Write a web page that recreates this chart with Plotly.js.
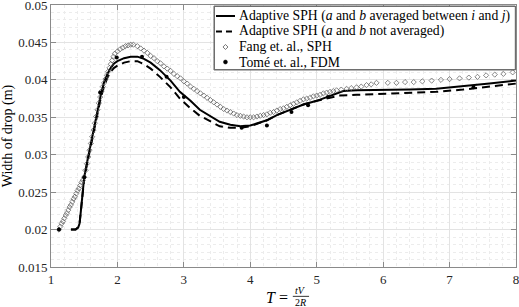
<!DOCTYPE html>
<html>
<head>
<meta charset="utf-8">
<script src="https://cdn.plot.ly/plotly-3.0.1.min.js"></script>
<style>
html,body{margin:0;padding:0;background:#fff;}
#chart{width:519px;height:307px;}
</style>
</head>
<body>
<div id="chart"></div>
<script>
// ---- Data ----
const seriesNames = [
  "Adaptive SPH (<i>a</i> and <i>b</i> averaged between <i>i</i> and <i>j</i>)",
  "Adaptive SPH (<i>a</i> and <i>b</i> not averaged)",
  "Fang et. al., SPH",
  "Tomé et. al., FDM"
];

const avgT = [1.30,1.37,1.41,1.43,1.45,1.48,1.50,1.55,1.60,1.65,1.70,1.75,1.80,1.85,1.90,1.95,2.00,2.10,2.20,2.30,2.40,2.50,2.64,2.80,2.94,3.10,3.24,3.40,3.54,3.70,3.85,4.00,4.10,4.25,4.40,4.60,4.80,5.00,5.20,5.30,5.40,5.60,6.00,6.40,6.80,7.20,7.60,8.00];
const avgW = [0.0200,0.0200,0.0203,0.0208,0.0225,0.0252,0.0270,0.0293,0.0315,0.0337,0.0359,0.0380,0.0397,0.0408,0.0416,0.0422,0.0425,0.0429,0.0431,0.0431,0.0428,0.0423,0.0413,0.0399,0.0384,0.0372,0.0360,0.0351,0.0344,0.0340,0.0338,0.0339,0.0342,0.0346,0.0353,0.0360,0.0367,0.0372,0.0378,0.0382,0.0385,0.0386,0.0386,0.0387,0.0388,0.0391,0.0395,0.0399];

const notAvgT = [1.30,1.37,1.41,1.43,1.45,1.48,1.50,1.55,1.60,1.65,1.70,1.75,1.80,1.85,1.90,1.95,2.00,2.10,2.20,2.30,2.40,2.50,2.64,2.80,2.94,3.10,3.24,3.40,3.54,3.70,3.85,4.00,4.10,4.25,4.40,4.60,4.80,5.00,5.20,5.35,5.60,6.00,6.40,6.80,7.20,7.60,8.00];
const notAvgW = [0.0200,0.0200,0.0203,0.0208,0.0225,0.0250,0.0268,0.0291,0.0313,0.0335,0.0356,0.0376,0.0392,0.0403,0.0411,0.0416,0.0419,0.0423,0.0425,0.0425,0.0421,0.0415,0.0404,0.0390,0.0375,0.0362,0.0352,0.0344,0.0338,0.0336,0.0336,0.0338,0.0341,0.0346,0.0353,0.0360,0.0367,0.0372,0.0376,0.0379,0.0380,0.0381,0.0382,0.0384,0.0387,0.0391,0.0395];

const fangT = [1.12,1.14,1.16,1.18,1.20,1.22,1.24,1.26,1.28,1.30,1.32,1.34,1.36,1.38,1.40,1.42,1.44,1.46,1.48,1.50,
  1.52,1.54,1.56,1.58,1.60,1.62,1.64,1.66,1.68,1.70,1.72,1.74,1.76,1.78,1.80,1.82,1.84,1.86,1.88,1.90,1.92,1.94,1.96,
  2.00,2.04,2.08,2.12,2.16,2.20,2.24,2.30,2.35,2.40,2.45,2.50,2.55,2.60,2.65,2.70,2.75,2.80,2.85,2.90,2.95,
  3.00,3.05,3.10,3.15,3.20,3.25,3.30,3.35,3.40,3.45,3.50,3.55,3.60,3.65,3.70,3.75,3.80,3.85,3.90,3.95,
  4.00,4.05,4.10,4.15,4.20,4.25,4.30,4.35,4.40,4.45,4.50,4.55,4.60,4.65,4.70,4.75,4.80,4.85,4.90,4.95,
  5.00,5.05,5.10,5.15,5.20,5.25,5.30,5.37,5.45,5.52,5.60,5.67,5.75,5.82,5.90,
  6.07,6.20,6.33,6.46,6.59,6.73,6.87,7.00,7.15,7.29,7.42,7.55,7.68,7.81,7.95];
const fangW = [0.0200,0.0204,0.0208,0.0211,0.0215,0.0219,0.0222,0.0226,0.0230,0.0233,0.0237,0.0241,0.0244,0.0248,0.0252,0.0255,0.0259,0.0263,0.0266,0.0270,
  0.0279,0.0288,0.0297,0.0306,0.0315,0.0324,0.0333,0.0342,0.0351,0.0360,0.0369,0.0377,0.0385,0.0391,0.0396,0.0401,0.0406,0.0411,0.0416,0.0421,0.0426,0.0431,0.0435,
  0.0438,0.0441,0.0443,0.0445,0.0446,0.0447,0.0447,0.0445,0.0442,0.0439,0.0436,0.0432,0.0429,0.0425,0.0422,0.0418,0.0415,0.0412,0.0408,0.0405,0.0402,
  0.0398,0.0395,0.0391,0.0388,0.0385,0.0382,0.0379,0.0376,0.0373,0.0370,0.0367,0.0364,0.0361,0.0359,0.0357,0.0355,0.0353,0.0352,0.0351,0.0350,
  0.0350,0.0350,0.0351,0.0352,0.0353,0.0354,0.0356,0.0357,0.0359,0.0361,0.0362,0.0364,0.0366,0.0368,0.0370,0.0372,0.0374,0.0375,0.0376,0.0378,
  0.0379,0.0380,0.0382,0.0383,0.0384,0.0385,0.0386,0.0387,0.0388,0.0389,0.0390,0.0391,0.0393,0.0394,0.0396,
  0.0396,0.0396,0.0397,0.0397,0.0398,0.0399,0.0400,0.0401,0.0402,0.0403,0.0404,0.0406,0.0407,0.0408,0.0410];

const tomeT = [1.12,1.50,1.74,1.99,2.37,2.74,3.00,3.87,4.25,4.62,4.87,5.17,7.36];
const tomeW = [0.0200,0.0270,0.0383,0.0430,0.0431,0.0404,0.0377,0.0336,0.0339,0.0357,0.0366,0.0377,0.0390];

const xTickVals = [1,2,3,4,5,6,7,8];
const xTickText = ["1","2","3","4","5","6","7","8"];
const yTickVals = [0.015,0.02,0.025,0.03,0.035,0.04,0.045,0.05];
const yTickText = ["0.015","0.02","0.025","0.03","0.035","0.04","0.045","0.05"];

const yTitle = "Width of drop (m)";

// ---- Chart ----
const FONT = "Times New Roman, serif";
const axisCol = "#8a8a8a";
const boxCol = "#6e6e6e";

const traces = [
  {x: avgT, y: avgW, name: seriesNames[0], mode: "lines", type: "scatter",
   line: {color: "#000", width: 2}},
  {x: notAvgT, y: notAvgW, name: seriesNames[1], mode: "lines", type: "scatter",
   line: {color: "#000", width: 2, dash: "8px,5px"}},
  {x: fangT, y: fangW, name: seriesNames[2], mode: "markers", type: "scatter",
   marker: {symbol: "diamond-open", size: 4, color: "#555", line: {width: 0.7, color: "#555"}}},
  {x: tomeT, y: tomeW, name: seriesNames[3], mode: "markers", type: "scatter",
   marker: {symbol: "circle", size: 4, color: "#000"}}
];

const axisCommon = {
  showline: true, linecolor: axisCol, linewidth: 1, mirror: "ticks",
  ticks: "inside", ticklen: 5, tickcolor: axisCol, tickwidth: 1,
  showgrid: true, gridcolor: "#e3e3e3", gridwidth: 1,
  zeroline: false, ticklabeloverflow: "allow",
  tickfont: {family: FONT, size: 13, color: "#262626"},
  tickmode: "array"
};

// compact legend box (paper coordinates), laid out like the reference
const LG = {x0: 0.3505, x1: 0.9985, y0: 0.7519, y1: 0.9962,
            rows: [0.9580, 0.8989, 0.8397, 0.7824],
            sx0: 0.3548, sx1: 0.3957, sxc: 0.3752, tx: 0.3995};
const legendBox = {
  xref: "paper", yref: "paper", x: (LG.x0 + LG.x1) / 2, y: (LG.y0 + LG.y1) / 2,
  xanchor: "center", yanchor: "middle", text: "\u00a0", showarrow: false,
  width: 300, height: 62, borderpad: 0, borderwidth: 1, bordercolor: boxCol,
  bgcolor: "rgba(0,0,0,0)", font: {family: FONT, size: 10}
};
const legendAnn = seriesNames.map((nm, i) => ({
  xref: "paper", yref: "paper", x: LG.tx, y: LG.rows[i], xanchor: "left", yanchor: "middle",
  text: nm, showarrow: false, font: {family: FONT, size: 13.7, color: "#000"}
}));
const dxm = 2.5 / 465, dym = 2.5 / 262;
const legendShapes = [
  {type: "rect", xref: "paper", yref: "paper", x0: LG.x0, x1: LG.x1, y0: LG.y0, y1: LG.y1,
   fillcolor: "#ffffff", opacity: 1, line: {color: boxCol, width: 1}, layer: "above"},
  {type: "line", xref: "paper", yref: "paper", x0: LG.sx0, x1: LG.sx1, y0: LG.rows[0], y1: LG.rows[0],
   line: {color: "#000", width: 2}, layer: "above"},
  {type: "line", xref: "paper", yref: "paper", x0: LG.sx0, x1: LG.sx1, y0: LG.rows[1], y1: LG.rows[1],
   line: {color: "#000", width: 2, dash: "6px,4px"}, layer: "above"},
  {type: "path", xref: "paper", yref: "paper", layer: "above",
   path: `M ${LG.sxc - dxm},${LG.rows[2]} L ${LG.sxc},${LG.rows[2] + dym} L ${LG.sxc + dxm},${LG.rows[2]} L ${LG.sxc},${LG.rows[2] - dym} Z`,
   line: {color: "#555", width: 0.8}, fillcolor: "rgba(0,0,0,0)"},
  {type: "circle", xref: "paper", yref: "paper", layer: "above",
   x0: LG.sxc - 0.8 * dxm, x1: LG.sxc + 0.8 * dxm, y0: LG.rows[3] - 0.8 * dym, y1: LG.rows[3] + 0.8 * dym,
   fillcolor: "#000", line: {color: "#000", width: 0.5}}
];

const layout = {
  width: 519, height: 307,
  margin: {l: 51, r: 3, t: 5, b: 40},
  paper_bgcolor: "#fff", plot_bgcolor: "#fff",
  showlegend: false,
  font: {family: FONT, size: 13, color: "#000"},
  xaxis: Object.assign({}, axisCommon, {
    range: [1, 8], tickvals: xTickVals, ticktext: xTickText,
    minor: {dtick: 0.2, showgrid: true, gridcolor: "#ececec", griddash: "dot", gridwidth: 1}
  }),
  yaxis: Object.assign({}, axisCommon, {
    range: [0.015, 0.05], tickvals: yTickVals, ticktext: yTickText,
    title: {text: yTitle, font: {family: FONT, size: 14, color: "#000"}, standoff: 6},
    minor: {dtick: 0.001, showgrid: true, gridcolor: "#ececec", griddash: "dot", gridwidth: 1}
  }),
  annotations: [legendBox].concat(legendAnn, [
    {xref: "paper", yref: "paper", x: 0.485, y: -0.115, xanchor: "center", yanchor: "middle",
     text: "<i>T</i> =", showarrow: false, font: {family: FONT, size: 16, color: "#000"}},
    {xref: "paper", yref: "paper", x: 0.537, y: -0.089, xanchor: "center", yanchor: "middle",
     text: "<i>tV</i>", showarrow: false, font: {family: FONT, size: 10, color: "#000"}},
    {xref: "paper", yref: "paper", x: 0.537, y: -0.137, xanchor: "center", yanchor: "middle",
     text: "2<i>R</i>", showarrow: false, font: {family: FONT, size: 10, color: "#000"}}
  ]),
  shapes: legendShapes.concat([
    {type: "line", xref: "paper", yref: "paper", x0: 0.520, x1: 0.555, y0: -0.112, y1: -0.112,
     line: {color: "#000", width: 0.8}}
  ])
};

Plotly.newPlot("chart", traces, layout, {staticPlot: true, displayModeBar: false});
</script>
</body>
</html>
